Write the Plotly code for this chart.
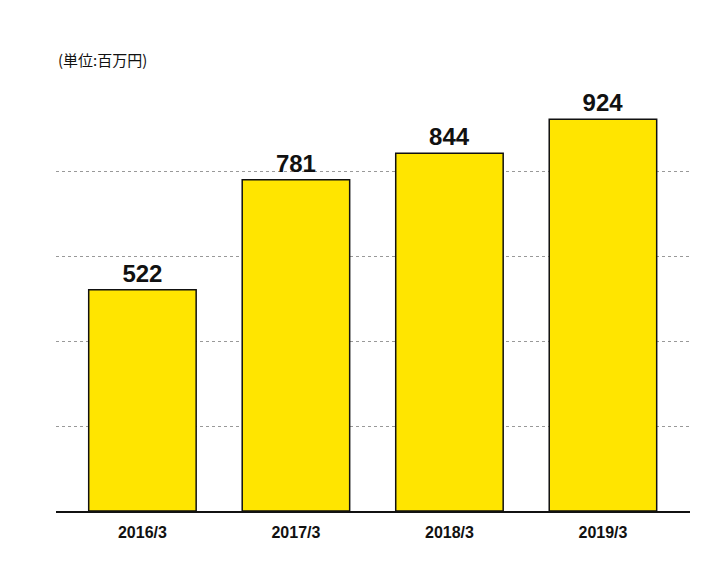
import plotly.graph_objects as go

categories = ["2016/3", "2017/3", "2018/3", "2019/3"]
values = [522, 781, 844, 924]

xs = list(range(len(categories)))
fig = go.Figure(go.Bar(
    x=xs, y=values, width=0.7,
    marker=dict(color="#FFE500", line=dict(color="#111111", width=1.5)),
    text=[str(v) for v in values], textposition="outside",
    textfont=dict(family="Liberation Sans, Arial", size=24, color="#111111"),
    texttemplate="<b>%{text}</b>", cliponaxis=False,
))
fig.update_layout(
    width=728, height=580, plot_bgcolor="white", paper_bgcolor="white",
    margin=dict(l=48, r=46, t=79, b=77), showlegend=False,
    xaxis=dict(tickvals=xs, ticktext=["<b>%s</b>" % c for c in categories],
               range=[-0.563, 3.567], showgrid=False, zeroline=False,
               showline=True, linecolor="#111111", linewidth=1.5,
               tickfont=dict(family="Liberation Sans, Arial", size=16, color="#111111"),
               ticks="", ticklabelstandoff=6),
    yaxis=dict(range=[0, 1000], dtick=200, showticklabels=False,
               showgrid=True, gridcolor="#999999", griddash="dot", gridwidth=1,
               zeroline=False),
    annotations=[dict(text="(単位:百万円)", x=0, xref="paper", y=1.0, yref="paper",
                      yshift=28, xanchor="left", yanchor="middle", showarrow=False,
                      font=dict(family="Noto Sans CJK JP", size=15, color="#111111"))],
)
fig.write_html("out.html")
